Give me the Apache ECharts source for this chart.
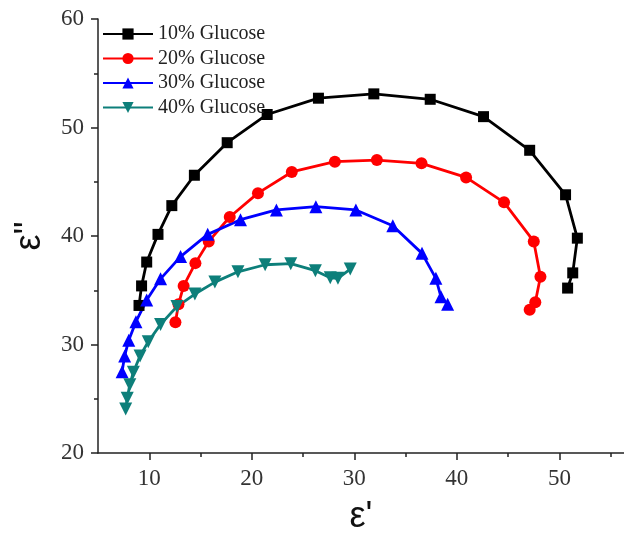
<!DOCTYPE html>
<html>
<head>
<meta charset="utf-8">
<script src="https://cdn.jsdelivr.net/npm/echarts@6/dist/echarts.min.js"></script>
<style>
  html, body { margin: 0; padding: 0; background: #fff; }
  #chart { width: 624px; height: 533px; }
</style>
</head>
<body>
<div id="chart"></div>
<script>
// ε' / ε'' pairs
const glucose10 = [
  [9.0, 33.6], [9.25, 35.4], [9.75, 37.6], [10.85, 40.15], [12.2, 42.8], [14.4, 45.6],
  [17.6, 48.6], [21.5, 51.2], [26.5, 52.7], [31.9, 53.1], [37.4, 52.6], [42.6, 51.0],
  [47.1, 47.9], [50.6, 43.8], [51.75, 39.8], [51.3, 36.6], [50.8, 35.2]
];
const glucose20 = [
  [12.55, 32.05], [12.85, 33.7], [13.35, 35.4], [14.5, 37.5], [15.8, 39.5], [17.85, 41.75],
  [20.6, 43.95], [23.9, 45.9], [28.1, 46.85], [32.2, 47.0], [36.55, 46.7], [40.9, 45.4],
  [44.6, 43.1], [47.5, 39.5], [48.15, 36.25], [47.65, 33.9], [47.1, 33.2]
];
const glucose30 = [
  [7.35, 27.5], [7.6, 28.95], [8.0, 30.4], [8.7, 32.1], [9.75, 34.1], [11.1, 36.05],
  [13.05, 38.1], [15.7, 40.15], [18.9, 41.5], [22.4, 42.4], [26.25, 42.7], [30.15, 42.4],
  [33.75, 40.95], [36.6, 38.4], [37.95, 36.1], [38.45, 34.4], [39.1, 33.7]
];
const glucose40 = [
  [7.7, 24.05], [7.85, 25.05], [8.1, 26.3], [8.45, 27.45], [9.1, 28.95], [9.9, 30.25],
  [11.1, 31.85], [12.7, 33.5], [14.45, 34.65], [16.4, 35.75], [18.65, 36.7], [21.3, 37.35],
  [23.8, 37.45], [26.2, 36.8], [27.65, 36.15], [28.4, 36.1], [29.6, 36.95]
];
const seriesNames = ['10% Glucose', '20% Glucose', '30% Glucose', '40% Glucose'];
const xMajorTicks = [10, 20, 30, 40, 50];
const xMinorTicks = [15, 25, 35, 45, 55];

const serif = '"Liberation Serif", "Times New Roman", serif';
const sans = '"Liberation Sans", Arial, sans-serif';
const axisColor = '#222';

function lineSeries(name, data, color, symbol, size, rotate) {
  return {
    name: name,
    type: 'line',
    data: data,
    color: color,
    symbol: symbol,
    symbolSize: size,
    symbolRotate: rotate || 0,
    lineStyle: { width: 2.8, color: color },
    itemStyle: { color: color },
    emphasis: { disabled: true },
    animation: false
  };
}

let myChart = echarts.init(document.getElementById('chart'));
let option = {
  backgroundColor: '#fff',
  grid: { left: 98, right: 0, top: 19, bottom: 80, outerBoundsMode: 'none', containLabel: false },
  legend: {
    orient: 'vertical',
    left: 97,
    top: 19,
    itemWidth: 50,
    itemHeight: 14,
    itemGap: 4.5,
    textStyle: { fontFamily: serif, fontSize: 20, color: '#222', lineHeight: 20 },
    data: seriesNames
  },
  xAxis: [
    {
      type: 'value',
      min: 5,
      max: 56.3,
      name: "ε'",
      nameLocation: 'middle',
      nameGap: 46,
      nameTextStyle: { fontFamily: sans, fontSize: 36, color: '#111' },
      splitLine: { show: false },
      axisLine: { lineStyle: { color: axisColor, width: 1.5 } },
      axisTick: { customValues: xMajorTicks, length: 7, lineStyle: { color: axisColor, width: 1.5 } },
      axisLabel: { customValues: xMajorTicks, fontFamily: serif, fontSize: 23, color: '#333', margin: 14 }
    },
    {
      type: 'value',
      position: 'bottom',
      min: 5,
      max: 56.3,
      splitLine: { show: false },
      axisLine: { show: false },
      axisTick: { customValues: xMinorTicks, length: 4, lineStyle: { color: axisColor, width: 1.5 } },
      axisLabel: { show: false }
    }
  ],
  yAxis: {
    type: 'value',
    min: 20,
    max: 60,
    interval: 10,
    name: 'ε"',
    nameLocation: 'middle',
    nameGap: 50,
    nameTextStyle: { fontFamily: sans, fontSize: 36, color: '#111' },
    splitLine: { show: false },
    axisLine: { show: true, lineStyle: { color: axisColor, width: 1.5 } },
    axisTick: { show: true, length: 7, lineStyle: { color: axisColor, width: 1.5 } },
    minorTick: { show: true, splitNumber: 2, length: 4, lineStyle: { color: axisColor, width: 1.5 } },
    axisLabel: { fontFamily: serif, fontSize: 23, color: '#333', margin: 14 }
  },
  series: [
    lineSeries(seriesNames[0], glucose10, '#000000', 'rect', 11),
    lineSeries(seriesNames[1], glucose20, '#ff0000', 'circle', 12),
    lineSeries(seriesNames[2], glucose30, '#0000ff', 'triangle', 13),
    lineSeries(seriesNames[3], glucose40, '#0d7f7a', 'triangle', 13, 180)
  ]
};
myChart.setOption(option);
</script>
</body>
</html>
